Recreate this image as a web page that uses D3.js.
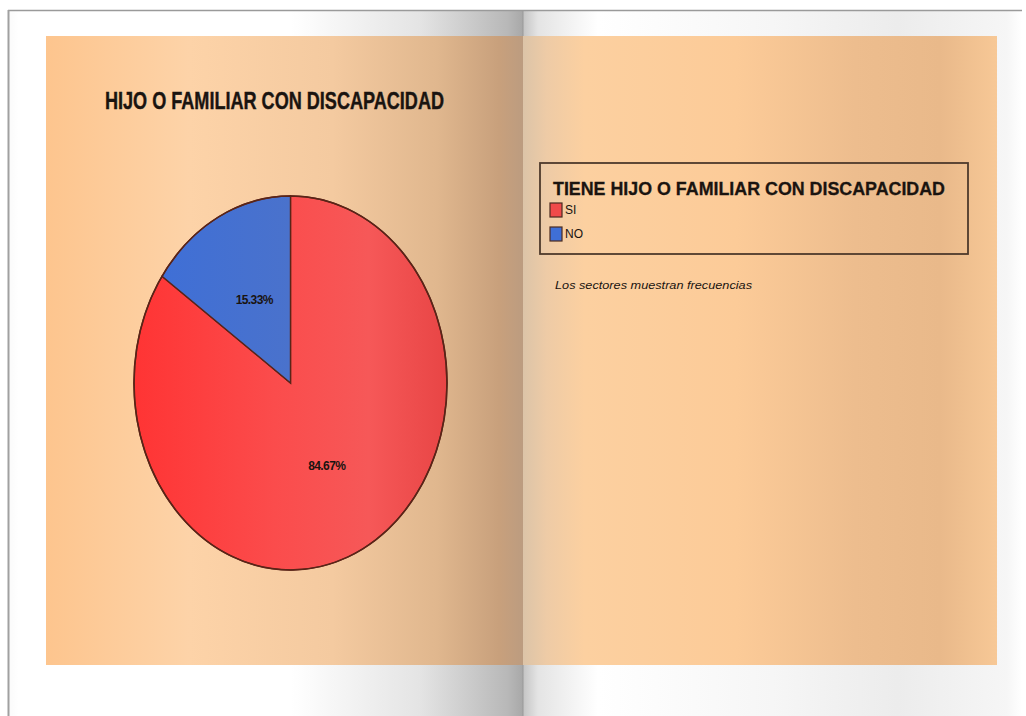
<!DOCTYPE html>
<html><head><meta charset="utf-8">
<script src="https://cdn.jsdelivr.net/npm/d3@7"></script>
<style>html,body{margin:0;padding:0;background:#fff;overflow:hidden}</style>
</head><body>
<svg id="c" width="1026" height="716"></svg>
<script>
const categories = ["SI", "NO"];
const values = [84.67, 15.33];
const labels = ["84.67%", "15.33%"];
const chartTitle = "HIJO O FAMILIAR CON DISCAPACIDAD";
const legendTitle = "TIENE HIJO O FAMILIAR CON DISCAPACIDAD";
const footNote = "Los sectores muestran frecuencias";

const svg = d3.select("#c");
const defs = svg.append("defs");
function lg(id, stops, x1=0, x2=1, y1=0, y2=0){
  const g = defs.append("linearGradient").attr("id", id)
    .attr("x1", x1).attr("x2", x2).attr("y1", y1).attr("y2", y2);
  stops.forEach(s => g.append("stop").attr("offset", s[0]).attr("stop-color", s[1]));
}
lg("pageL", [[0,"#fafafa"],[0.02,"#ffffff"],[0.55,"#ffffff"],[0.8,"#e4e4e4"],[0.97,"#b8b8b8"],[1,"#a8a8a8"]]);
lg("pageR", [[0,"#c4c4c4"],[0.03,"#e4e4e4"],[0.15,"#ffffff"],[0.5,"#f6f6f6"],[0.75,"#ececec"],[0.97,"#f6f6f6"],[1,"#ffffff"]]);
lg("orgL", [[0,"#fdc58e"],[0.3,"#fdd3a8"],[0.6,"#f4caa0"],[0.82,"#e0b78e"],[0.95,"#c8a07c"],[1,"#bc9c80"]]);
lg("orgR", [[0,"#dcc4a8"],[0.05,"#eecba6"],[0.13,"#fcd0a0"],[0.45,"#fccb98"],[0.7,"#edbd8e"],[0.88,"#e9b98a"],[1,"#f7c896"]]);
lg("gSI", [[0,"#ff3434"],[0.45,"#fb4c4c"],[0.75,"#f65858"],[1,"#e84545"]]);
lg("gNO", [[0,"#3f6fd6"],[1,"#4a72cc"]]);

// background book pages
svg.append("rect").attr("x",0).attr("y",0).attr("width",1026).attr("height",716).attr("fill","#fff");
svg.append("rect").attr("x",8).attr("y",10).attr("width",515).attr("height",706).attr("fill","url(#pageL)");
svg.append("rect").attr("x",523).attr("y",10).attr("width",499).attr("height",706).attr("fill","url(#pageR)");
svg.append("line").attr("x1",8).attr("x2",1022).attr("y1",10.5).attr("y2",10.5).attr("stroke","#9a9a9a").attr("stroke-width",1.5);
svg.append("line").attr("x1",8.5).attr("x2",8.5).attr("y1",10).attr("y2",716).attr("stroke","#a0a0a0").attr("stroke-width",2);
svg.append("line").attr("x1",523).attr("x2",523).attr("y1",10).attr("y2",716).attr("stroke","#999").attr("stroke-width",1);

// orange panels
svg.append("rect").attr("x",46).attr("y",36).attr("width",477).attr("height",629).attr("fill","url(#orgL)");
svg.append("rect").attr("x",523).attr("y",36).attr("width",474).attr("height",629).attr("fill","url(#orgR)");

const narrow = "'Liberation Sans Narrow','Arial Narrow',Arial,sans-serif";

// title
svg.append("text").attr("x",105).attr("y",109).text(chartTitle)
  .attr("font-family",narrow)
  .attr("font-weight","bold").attr("font-size",23).attr("fill","#1a1410")
  .attr("stroke","#1a1410").attr("stroke-width",0.4)
  .attr("textLength",339).attr("lengthAdjust","spacingAndGlyphs");

// pie (elliptical)
const cx = 290.5, cy = 383, rx = 156.5, ry = 187;
const pie = d3.pie().sort(null).value(d => d.v);
const data = pie(categories.map((c,i) => ({c, v: values[i], l: labels[i]})));
const arc = d3.arc().innerRadius(0).outerRadius(rx);
const colorScale = d3.scaleOrdinal().domain(categories).range(["url(#gSI)","url(#gNO)"]);
const g = svg.append("g").attr("transform",`translate(${cx},${cy}) scale(1,${ry/rx})`);
g.selectAll("path").data(data).join("path")
  .attr("d", arc).attr("fill", d => colorScale(d.data.c))
  .attr("stroke","#5a2418").attr("stroke-width",1.4).attr("vector-effect","non-scaling-stroke");
g.append("ellipse").attr("rx",rx).attr("ry",rx).attr("fill","none")
  .attr("stroke","#5a2418").attr("stroke-width",1.6).attr("vector-effect","non-scaling-stroke");

data.forEach(d => {
  const [x, y] = arc.centroid(d);
  svg.append("text").attr("x", cx + x).attr("y", cy + y*ry/rx + 4)
    .attr("text-anchor","middle").text(d.data.l)
    .attr("font-family",narrow).attr("font-weight","bold")
    .attr("font-size",12).attr("fill","#1a1410").attr("letter-spacing","-0.6");
});

// legend
svg.append("rect").attr("x",540).attr("y",163).attr("width",428).attr("height",91)
  .attr("fill","none").attr("stroke","#4e3a2c").attr("stroke-width",1.8);
svg.append("text").attr("x",553).attr("y",195).text(legendTitle)
  .attr("font-family",narrow)
  .attr("font-weight","bold").attr("font-size",19).attr("fill","#1a1410")
  .attr("stroke","#1a1410").attr("stroke-width",0.3)
  .attr("textLength",392).attr("lengthAdjust","spacingAndGlyphs");
const legColors = ["#f04a4a","#3f6fd6"];
categories.forEach((c,i) => {
  const y = 203 + i*24;
  svg.append("rect").attr("x",550).attr("y",y).attr("width",12).attr("height",14)
    .attr("fill",legColors[i]).attr("stroke","#4a2a20").attr("stroke-width",1.2);
  svg.append("text").attr("x",565).attr("y",y+11).text(c)
    .attr("font-family",narrow)
    .attr("font-size",12).attr("fill","#1a1410");
});

svg.append("text").attr("x",555).attr("y",289).text(footNote)
  .attr("font-family",narrow)
  .attr("font-size",11.5).attr("font-style","italic").attr("fill","#1a1410")
  .attr("textLength",197).attr("lengthAdjust","spacingAndGlyphs");
</script>
</body></html>
